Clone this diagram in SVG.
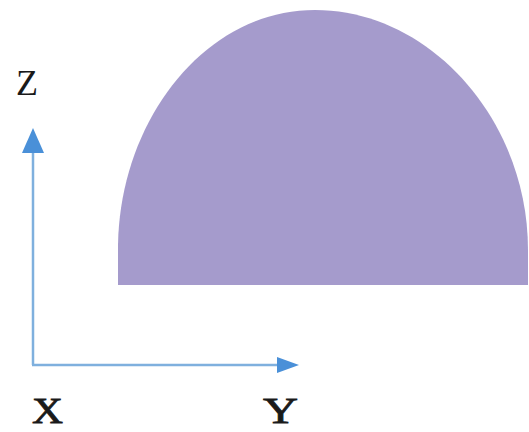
<svg xmlns="http://www.w3.org/2000/svg" width="529" height="432" viewBox="0 0 529 432">
<style>
.lbl{font-family:"Liberation Serif","Times New Roman",serif;font-size:36px;fill:#1a1a1a}
.bold{stroke:#1a1a1a;stroke-width:0.8}
.axis{stroke:#7fb0de;stroke-width:2.5;fill:none}
.head{fill:#4a90d8}
</style>
<rect width="529" height="432" fill="#ffffff"/>
<g id="shape">
<path d="M118,285 L118,245 C120,120 205,10 315,10 C430,10 528,120 528,250 L528,285 Z" fill="#a59bcc"/>
</g>
<g id="connectors">
<line class="axis" x1="33" y1="365" x2="33" y2="150"/>
<line class="axis" x1="32" y1="365" x2="282" y2="365"/>
<polygon class="head" points="33,128 22,153 44,153"/>
<polygon class="head" points="299,365 277,357 277,373"/>
</g>
<g id="labels">
<text class="lbl" x="16" y="95">Z</text>
<text class="lbl bold" x="32" y="423" textLength="31" lengthAdjust="spacingAndGlyphs">X</text>
<text class="lbl bold" x="263" y="423" textLength="35" lengthAdjust="spacingAndGlyphs">Y</text>
</g>
</svg>
